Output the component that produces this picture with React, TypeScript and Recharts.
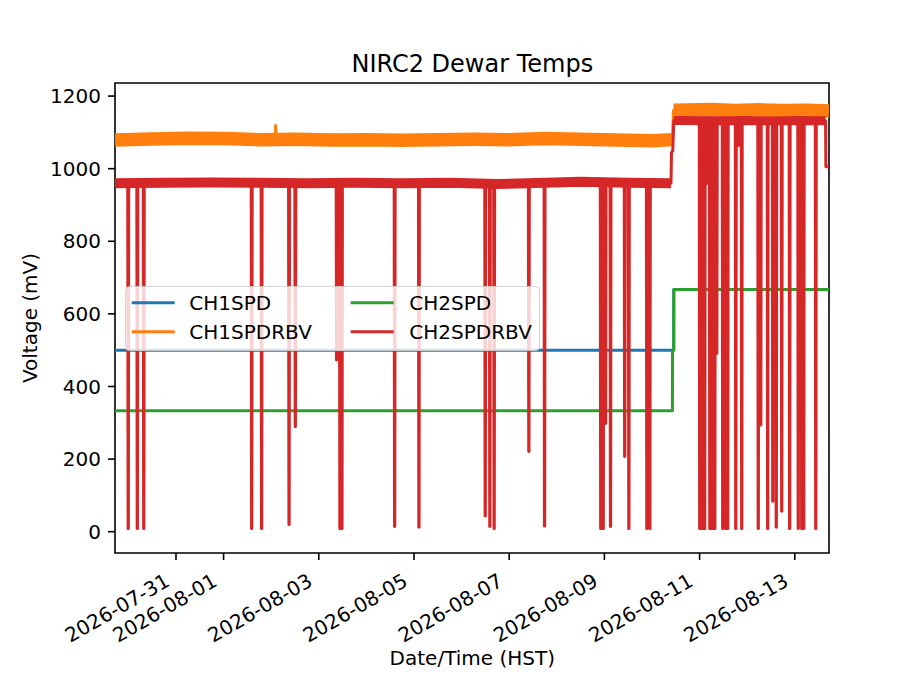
import React from "react";
import { LineChart, Line, XAxis, YAxis, Legend, ReferenceArea } from "recharts";

const FONT = "DejaVu Sans, sans-serif";
const BLUE = "#1f77b4";
const ORANGE = "#ff7f0e";
const GREEN = "#2ca02c";
const RED = "#d62728";

const START = "2026-07-29 17:15";
const END = "2026-08-13 17:15";
const X_TICKS = [
  "2026-07-31",
  "2026-08-01",
  "2026-08-03",
  "2026-08-05",
  "2026-08-07",
  "2026-08-09",
  "2026-08-11",
  "2026-08-13",
];
const Y_TICKS = [0, 200, 400, 600, 800, 1000, 1200];
const Y_DOMAIN: [number, number] = [-58.7, 1236];

type Pt = [string, number];

const CH1SPD: Pt[] = [
  [START, 500],
  ["2026-08-10 10:58", 500],
  ["2026-08-10 11:00", 667],
  [END, 667],
];

const CH2SPD: Pt[] = [
  [START, 333],
  ["2026-08-10 10:19", 333],
  ["2026-08-10 10:21", 500],
  ["2026-08-10 10:58", 500],
  ["2026-08-10 11:00", 667],
  [END, 667],
];

// CH1SPDRBV: thin trace (spike + jump) and the noisy band around it
const CH1SPDRBV: Pt[] = [
  [START, 1080],
  ["2026-08-02 02:00", 1080],
  ["2026-08-02 02:15", 1119],
  ["2026-08-02 02:30", 1080],
  ["2026-08-10 10:20", 1080],
  ["2026-08-10 10:50", 1160],
  [END, 1160],
];
const CH1SPDRBV_BAND_PRE: Pt[] = [
  [START, 1079],
  ["2026-07-30 12:00", 1082],
  ["2026-07-31 06:00", 1084],
  ["2026-08-01 00:00", 1083],
  ["2026-08-01 18:00", 1080],
  ["2026-08-02 12:00", 1081],
  ["2026-08-03 06:00", 1079],
  ["2026-08-04 00:00", 1080],
  ["2026-08-04 18:00", 1078],
  ["2026-08-05 12:00", 1080],
  ["2026-08-06 06:00", 1081],
  ["2026-08-07 00:00", 1080],
  ["2026-08-07 18:00", 1083],
  ["2026-08-08 12:00", 1081],
  ["2026-08-09 06:00", 1079],
  ["2026-08-10 00:00", 1077],
  ["2026-08-10 10:20", 1080],
];
const CH1SPDRBV_BAND_POST: Pt[] = [
  ["2026-08-10 10:50", 1161],
  ["2026-08-11 06:00", 1163],
  ["2026-08-11 18:00", 1160],
  ["2026-08-12 06:00", 1162],
  ["2026-08-12 18:00", 1160],
  ["2026-08-13 06:00", 1161],
  [END, 1159],
];

// CH2SPDRBV: baseline levels, drop-outs and band
const CH2SPDRBV_BASE_PRE = 960;
const CH2SPDRBV_BASE_POST = 1132;
const CH2SPDRBV_DIPS_PRE: Pt[] = [
  ["2026-07-29 23:55", 9],
  ["2026-07-30 04:30", 9],
  ["2026-07-30 07:45", 9],
  ["2026-08-01 14:10", 9],
  ["2026-08-01 19:10", 9],
  ["2026-08-02 09:00", 20],
  ["2026-08-02 12:10", 290],
  ["2026-08-03 09:00", 473],
  ["2026-08-03 10:40", 9],
  ["2026-08-03 11:40", 9],
  ["2026-08-04 14:15", 14],
  ["2026-08-05 02:30", 12],
  ["2026-08-06 11:55", 43],
  ["2026-08-06 14:15", 14],
  ["2026-08-06 16:25", 9],
  ["2026-08-07 09:55", 221],
  ["2026-08-07 17:50", 16],
  ["2026-08-08 22:10", 9],
  ["2026-08-08 23:25", 9],
  ["2026-08-09 00:35", 298],
  ["2026-08-09 03:05", 14],
  ["2026-08-09 10:15", 207],
  ["2026-08-09 12:20", 9],
  ["2026-08-09 21:25", 9],
  ["2026-08-09 22:55", 9],
];
const CH2SPDRBV_JUMP: Pt[] = [
  ["2026-08-10 09:35", 960],
  ["2026-08-10 09:50", 1045],
  ["2026-08-10 10:30", 1050],
  ["2026-08-10 10:58", 1132],
];
const CH2SPDRBV_DIPS_POST: Pt[] = [
  ["2026-08-11 00:05", 9],
  ["2026-08-11 01:20", 9],
  ["2026-08-11 02:35", 9],
  ["2026-08-11 03:35", 959],
  ["2026-08-11 05:10", 9],
  ["2026-08-11 06:25", 9],
  ["2026-08-11 07:40", 9],
  ["2026-08-11 08:40", 491],
  ["2026-08-11 11:40", 9],
  ["2026-08-11 13:10", 9],
  ["2026-08-11 14:10", 9],
  ["2026-08-11 18:15", 9],
  ["2026-08-11 19:30", 1064],
  ["2026-08-11 21:15", 9],
  ["2026-08-12 05:35", 9],
  ["2026-08-12 06:50", 294],
  ["2026-08-12 10:20", 9],
  ["2026-08-12 12:55", 84],
  ["2026-08-12 14:40", 12],
  ["2026-08-12 17:25", 56],
  ["2026-08-12 21:25", 9],
  ["2026-08-13 01:45", 9],
  ["2026-08-13 03:30", 9],
  ["2026-08-13 04:30", 9],
  ["2026-08-13 10:35", 9],
];
const CH2SPDRBV_TAIL: Pt[] = [
  ["2026-08-13 15:30", 1132],
  ["2026-08-13 15:40", 1005],
  [END, 1005],
];
const CH2SPDRBV_BAND_PRE: Pt[] = [
  [START, 960],
  ["2026-07-30 18:00", 961],
  ["2026-07-31 18:00", 962],
  ["2026-08-01 18:00", 961],
  ["2026-08-02 18:00", 960],
  ["2026-08-03 18:00", 961],
  ["2026-08-04 18:00", 960],
  ["2026-08-05 18:00", 961],
  ["2026-08-06 18:00", 958],
  ["2026-08-07 18:00", 961],
  ["2026-08-08 12:00", 964],
  ["2026-08-09 12:00", 961],
  ["2026-08-10 09:35", 960],
];
const CH2SPDRBV_BAND_POST: Pt[] = [
  ["2026-08-10 10:58", 1133],
  ["2026-08-11 12:00", 1132],
  ["2026-08-12 00:00", 1133],
  ["2026-08-12 12:00", 1131],
  ["2026-08-13 00:00", 1133],
  ["2026-08-13 15:30", 1132],
];

const LEGEND_ITEMS = [
  { name: "CH1SPD", color: BLUE },
  { name: "CH1SPDRBV", color: ORANGE },
  { name: "CH2SPD", color: GREEN },
  { name: "CH2SPDRBV", color: RED },
];

const MIN = 60 * 1000;

const ts = (s: string) => {
  const [d, hm] = s.split(" ");
  const [Y, M, D] = d.split("-").map(Number);
  const [h, m] = (hm ?? "00:00").split(":").map(Number);
  return Date.UTC(Y, M - 1, D, h, m);
};

const rows = (pts: Pt[]) => pts.map(([s, v]) => ({ t: ts(s), v }));

const dipRows = (dips: Pt[], base: number) =>
  dips.flatMap(([s, v]) => {
    const t = ts(s);
    return [
      { t: t - 15 * MIN, v: base },
      { t: t - 4 * MIN, v },
      { t: t + 4 * MIN, v },
      { t: t + 15 * MIN, v: base },
    ];
  });

const redRows = [
  { t: ts(START), v: CH2SPDRBV_BASE_PRE },
  ...dipRows(CH2SPDRBV_DIPS_PRE, CH2SPDRBV_BASE_PRE),
  ...rows(CH2SPDRBV_JUMP),
  ...dipRows(CH2SPDRBV_DIPS_POST, CH2SPDRBV_BASE_POST),
  ...rows(CH2SPDRBV_TAIL),
];

const DateTick = (props: any) => {
  const { x, y, payload } = props;
  const label = new Date(payload.value).toISOString().slice(0, 10);
  const ax = x - 5;
  const ay = y + 25;
  return (
    <text
      x={ax}
      y={ay}
      transform={`rotate(-30 ${ax} ${ay})`}
      textAnchor="end"
      fontSize={20}
      fontFamily={FONT}
      fill="#000"
    >
      {label}
    </text>
  );
};

const LEG_W = 415;
const LEG_H = 65;

const LegendBox = () => (
  <svg width={LEG_W} height={LEG_H} style={{ display: "block" }}>
    <rect
      x={0.5}
      y={0.5}
      width={LEG_W - 1}
      height={LEG_H - 1}
      rx={4}
      fill="#fff"
      fillOpacity={0.8}
      stroke="#cccccc"
      strokeOpacity={0.8}
    />
    {LEGEND_ITEMS.map((it, i) => {
      const col = Math.floor(i / 2);
      const row = i % 2;
      const hx = col === 0 ? 6.7 : 225.7;
      const tx = col === 0 ? 64.3 : 284.3;
      const cy = row === 0 ? 16.7 : 45.7;
      return (
        <g key={it.name}>
          <line x1={hx} x2={hx + 43} y1={cy} y2={cy} stroke={it.color} strokeWidth={3} />
          <text x={tx} y={cy + 7.3} fontSize={20} fontFamily={FONT} fill="#000">
            {it.name}
          </text>
        </g>
      );
    })}
  </svg>
);

const thin = {
  type: "linear" as const,
  dataKey: "v",
  dot: false,
  activeDot: false,
  isAnimationActive: false,
  strokeWidth: 3,
  strokeLinejoin: "round" as const,
};

const band = {
  ...thin,
  legendType: "none" as const,
  strokeLinecap: "butt" as const,
};

export default function App() {
  return (
    <div style={{ position: "absolute", left: 0, top: 0, width: 921, height: 691, background: "#fff" }}>
      <LineChart width={921} height={691} margin={{ top: 83, right: 92, bottom: 78, left: 15 }}>
        <XAxis
          dataKey="t"
          type="number"
          domain={[ts(START), ts(END)]}
          allowDataOverflow
          ticks={X_TICKS.map(ts)}
          interval={0}
          height={60}
          axisLine={false}
          tickSize={7}
          tickMargin={0}
          tickLine={{ stroke: "#000", strokeWidth: 1.6 }}
          tick={<DateTick />}
        />
        <YAxis
          type="number"
          domain={Y_DOMAIN}
          allowDataOverflow
          ticks={Y_TICKS}
          interval={0}
          width={100}
          axisLine={false}
          tickSize={7}
          tickMargin={7}
          tickLine={{ stroke: "#000", strokeWidth: 1.6 }}
          tick={{ fontSize: 20, fill: "#000", fontFamily: FONT }}
        />
        <Line {...thin} name="CH1SPD" data={rows(CH1SPD)} stroke={BLUE} />
        <Line {...band} name="CH1SPDRBV band" data={rows(CH1SPDRBV_BAND_PRE)} stroke={ORANGE} strokeWidth={13.5} />
        <Line {...band} name="CH1SPDRBV band 2" data={rows(CH1SPDRBV_BAND_POST)} stroke={ORANGE} strokeWidth={13.5} />
        <Line {...thin} name="CH1SPDRBV" data={rows(CH1SPDRBV)} stroke={ORANGE} />
        <Line {...thin} name="CH2SPD" data={rows(CH2SPD)} stroke={GREEN} />
        <Line {...band} name="CH2SPDRBV band" data={rows(CH2SPDRBV_BAND_PRE)} stroke={RED} strokeWidth={10} />
        <Line {...band} name="CH2SPDRBV band 2" data={rows(CH2SPDRBV_BAND_POST)} stroke={RED} strokeWidth={9} />
        <Line {...thin} name="CH2SPDRBV" data={redRows} stroke={RED} />
        <ReferenceArea
          x1={ts(START)}
          x2={ts(END)}
          y1={Y_DOMAIN[0]}
          y2={Y_DOMAIN[1]}
          ifOverflow="visible"
          fill="none"
          fillOpacity={0}
          stroke="#000"
          strokeWidth={1.6}
        />
        <Legend
          layout="horizontal"
          verticalAlign="middle"
          align="center"
          content={() => <LegendBox />}
          wrapperStyle={{ left: 125, top: 286, width: LEG_W, height: LEG_H, lineHeight: 0 }}
        />
      </LineChart>
      <svg
        width={921}
        height={691}
        style={{ position: "absolute", left: 0, top: 0, pointerEvents: "none" }}
      >
        <text x={472.3} y={71.5} textAnchor="middle" fontSize={24} fontFamily={FONT} fill="#000">
          NIRC2 Dewar Temps
        </text>
        <text x={472.3} y={665} textAnchor="middle" fontSize={20} fontFamily={FONT} fill="#000">
          Date/Time (HST)
        </text>
        <text
          x={37.3}
          y={318}
          transform="rotate(-90 37.3 318)"
          textAnchor="middle"
          fontSize={20}
          fontFamily={FONT}
          fill="#000"
        >
          Voltage (mV)
        </text>
      </svg>
    </div>
  );
}
